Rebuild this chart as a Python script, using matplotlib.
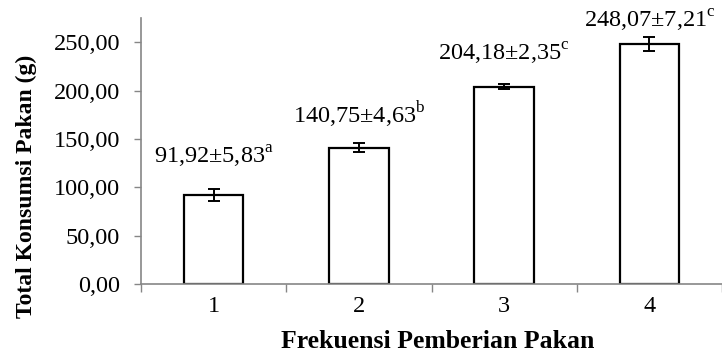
import numpy as np
import matplotlib
matplotlib.use('Agg')
import matplotlib.pyplot as plt
from matplotlib import rcParams

rcParams['font.family'] = ['Liberation Serif', 'DejaVu Serif']
rcParams['mathtext.fontset'] = 'custom'
rcParams['mathtext.rm'] = 'Liberation Serif'

# data
frekuensi = ['1', '2', '3', '4']
konsumsi = [91.92, 140.75, 204.18, 248.07]
sd = [5.83, 4.63, 2.35, 7.21]
notasi = ['a', 'b', 'c', 'c']

# label gap above error bar (data units)
label_gap = [27, 21, 24, 10]

def fmt(v):
    return f'{v:.2f}'.replace('.', ',')

fig = plt.figure(figsize=(7.22, 3.54), dpi=100)
ax = fig.add_axes([141 / 722, 1 - 284 / 354, 1 - 141 / 722, (284 - 18) / 354])

x = np.arange(1, len(konsumsi) + 1)
ax.bar(x, konsumsi, width=0.41, color='white', edgecolor='black', linewidth=1.6, zorder=2)
ax.errorbar(x, konsumsi, yerr=sd, fmt='none', ecolor='black', elinewidth=1.4,
            capsize=4.2, capthick=1.4, zorder=3)

for xi, v, s, n, g in zip(x, konsumsi, sd, notasi, label_gap):
    ax.text(xi, v + s + g, f'{fmt(v)}±{fmt(s)}$^{{\\mathrm{{{n}}}}}$',
            ha='center', va='baseline', fontsize=17.5, clip_on=False)

ax.set_xlim(0.5, 4.44)
ax.set_ylim(0, 275)
ax.set_yticks(np.arange(0, 251, 50))
ax.set_yticklabels([fmt(t) for t in np.arange(0, 251, 50)], fontsize=17.5)
ax.set_xticks(np.arange(0.5, 4.6, 1.0))
ax.set_xticklabels([])
ax.set_xticks(x, minor=True)
ax.set_xticklabels(frekuensi, minor=True, fontsize=17.5)

ax.tick_params(axis='y', direction='out', length=5, width=1, color='#868686', pad=10)
ax.tick_params(axis='x', which='major', direction='out', length=6, width=1, color='#868686')
ax.tick_params(axis='x', which='minor', length=0, pad=9)

for side in ['top', 'right']:
    ax.spines[side].set_visible(False)
for side in ['left', 'bottom']:
    ax.spines[side].set_color('#868686')
    ax.spines[side].set_linewidth(1.2)

ax.set_ylabel('Total Konsumsi Pakan (g)', fontsize=17, fontweight='bold')
ax.yaxis.set_label_coords(-0.179, 0.367)
ax.set_xlabel('Frekuensi Pemberian Pakan', fontsize=18.5, fontweight='bold')
ax.xaxis.set_label_coords(0.51, -0.173)

fig.savefig('out.png', dpi=100)
